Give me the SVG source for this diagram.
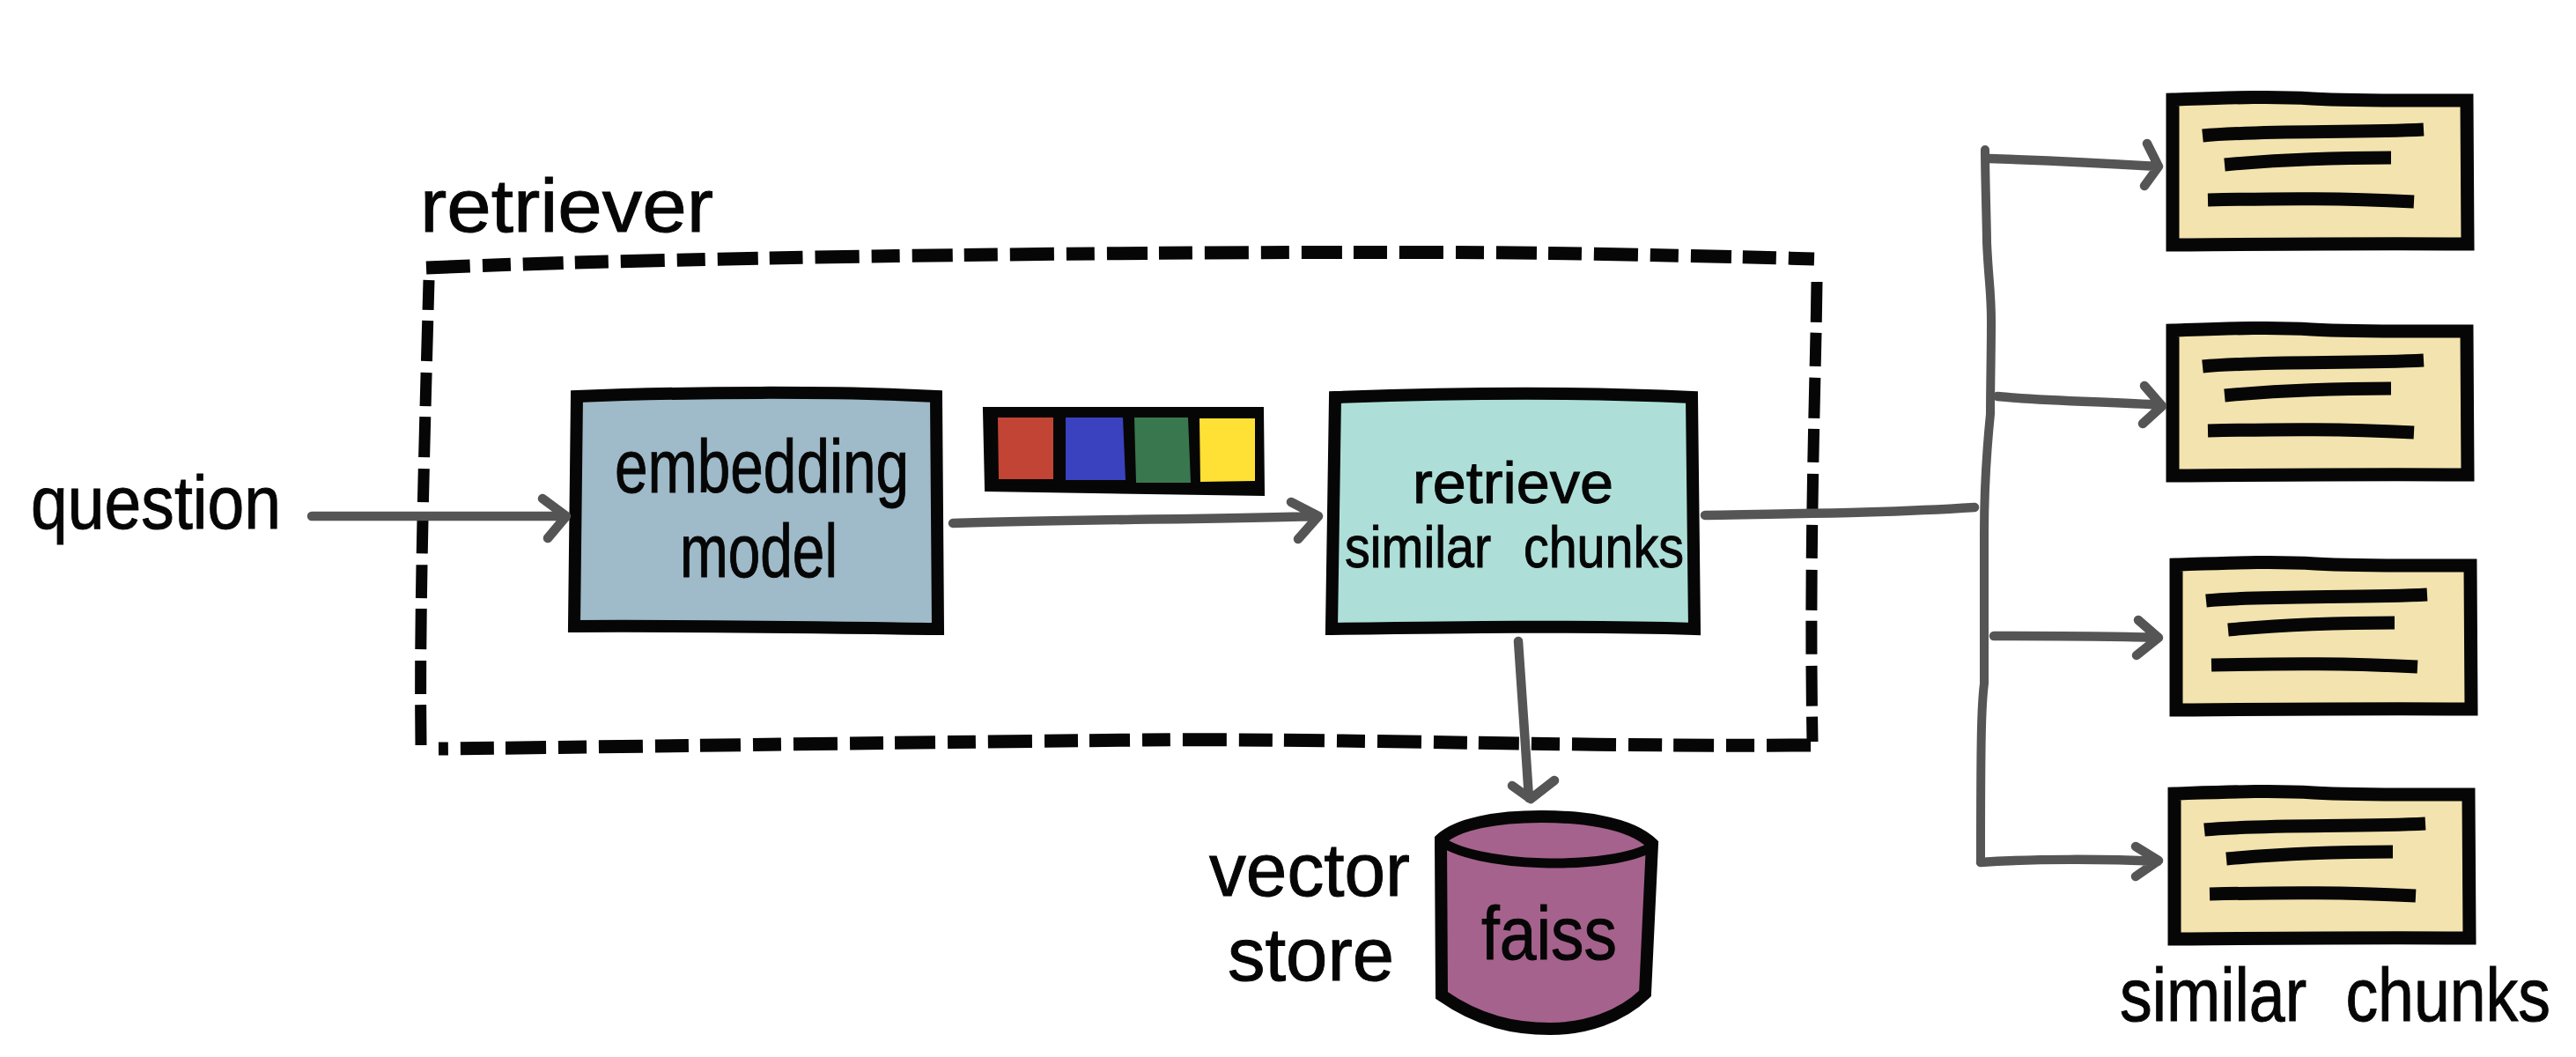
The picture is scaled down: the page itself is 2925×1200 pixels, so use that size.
<svg xmlns="http://www.w3.org/2000/svg" xmlns:xlink="http://www.w3.org/1999/xlink" width="2925" height="1200" viewBox="0 0 2925 1200">
<style>
text{font-family:"Liberation Sans Narrow","Liberation Sans",sans-serif;fill:#060606;stroke:#060606;stroke-width:1;text-anchor:start}
.hand{font-size:86px}
.small{font-size:66px}
.conn{fill:none;stroke:#555;stroke-width:10.5;stroke-linecap:round;stroke-linejoin:round}
.trunk{stroke-width:10}
.dash{fill:none;stroke:#060606;stroke-width:15;stroke-dasharray:50 14 32 14 46 13 38 14}
.dashv{stroke-width:13;stroke-dasharray:46 12 38 13}
.bar{fill:none;stroke:#060606;stroke-width:15;stroke-linecap:butt}
</style>
<defs>
<g id="doc">
<path d="M2467 113 C2530 111 2580 109 2625 112 C2680 115 2740 114 2801 114 L2802 277 C2700 276 2600 277 2467 278 Z" fill="#f3e3ae" stroke="#060606" stroke-width="15"/>
<path class="bar" d="M2501 154 C2560 148 2680 151 2752 147"/>
<path class="bar" d="M2526 187 C2590 181 2650 179 2715 179"/>
<path class="bar" d="M2507 227 C2600 225 2660 225 2741 229"/>
</g>
</defs>
<rect width="2925" height="1200" fill="#fff"/>

<g id="retriever">
<path class="dash" d="M484 304 C800 290 1500 283 1800 288 C1900 290 2000 292 2060 294"/>
<path class="dash dashv" d="M2063 320 C2062 420 2054 620 2058 842"/>
<path class="dash" d="M2056 846 C1800 848 1500 838 1300 840 C1000 843 700 848 498 850"/>
<path class="dash dashv" d="M478 846 C476 700 482 500 487 318"/>
<text class="hand" x="477" y="263" textLength="333" lengthAdjust="spacingAndGlyphs">retriever</text>
</g>

<g id="embedding-model">
<path d="M655 450 C780 445 950 444 1063 450 L1065 714 C900 712 780 710 652 711 Z" fill="#9fbac8" stroke="#060606" stroke-width="14"/>
<text class="hand" x="698" y="559" textLength="334" lengthAdjust="spacingAndGlyphs">embedding</text>
<text class="hand" x="772" y="655" textLength="179" lengthAdjust="spacingAndGlyphs">model</text>
</g>

<g id="vector">
<path d="M1120 466 L1431 466 L1432 559 C1320 558 1220 556 1122 554 Z" fill="#060606" stroke="#060606" stroke-width="8"/>
<path d="M1133 474 L1196 474 L1196 544 L1134 544 Z" fill="#c14435"/>
<path d="M1210 474 L1275 474 L1278 545 L1210 545 Z" fill="#3a42bf"/>
<path d="M1288 474 L1349 474 L1352 548 L1290 548 Z" fill="#39784f"/>
<path d="M1362 475 L1425 475 L1425 546 L1363 547 Z" fill="#ffe135"/>
</g>

<g id="retrieve-chunks">
<path d="M1516 451 C1650 446 1800 445 1921 451 L1924 714 C1800 710 1650 712 1512 714 Z" fill="#addfd8" stroke="#060606" stroke-width="14"/>
<text class="small" x="1604" y="571" textLength="228" lengthAdjust="spacingAndGlyphs">retrieve</text>
<text class="small" x="1527" y="644" style="word-spacing:24px" textLength="385" lengthAdjust="spacingAndGlyphs">similar chunks</text>
</g>

<g id="question">
<text class="hand" x="35" y="600" textLength="284" lengthAdjust="spacingAndGlyphs">question</text>
</g>

<g id="vector-store">
<path d="M1636 953 L1637 1130 C1680 1160 1720 1168 1760 1168 C1800 1168 1840 1155 1868 1128 L1876 958 C1850 932 1790 927 1750 927 C1700 927 1655 935 1636 953 Z" fill="#a5628c" stroke="#060606" stroke-width="14"/>
<path d="M1634 953 C1670 985 1830 990 1878 960" fill="none" stroke="#060606" stroke-width="11"/>
<text class="hand" x="1682" y="1089" textLength="154" lengthAdjust="spacingAndGlyphs">faiss</text>
<text class="hand" x="1373" y="1017" textLength="228" lengthAdjust="spacingAndGlyphs">vector</text>
<text class="hand" x="1394" y="1113" textLength="189" lengthAdjust="spacingAndGlyphs">store</text>
</g>

<g id="chunk-1"><use href="#doc" xlink:href="#doc"/></g>
<g id="chunk-2"><use href="#doc" xlink:href="#doc" y="262"/></g>
<g id="chunk-3"><use href="#doc" xlink:href="#doc" x="4" y="528"/></g>
<g id="chunk-4"><use href="#doc" xlink:href="#doc" x="2" y="788"/></g>

<text class="hand" id="similar-chunks" x="2407" y="1159" style="word-spacing:28px" textLength="489" lengthAdjust="spacingAndGlyphs">similar chunks</text>

<g id="connectors">
<path class="conn" d="M354 586 L640 586 M616 566 L643 586 L622 611"/>
<path class="conn" d="M1082 594 C1200 590 1350 590 1496 586 M1466 570 L1497 586 L1474 612"/>
<path class="conn" d="M1936 585 C2050 583 2150 582 2242 576"/>
<path class="conn" d="M1724 728 C1728 780 1732 850 1736 906 M1717 892 L1738 907 L1765 886"/>
<path class="conn trunk" d="M2254 170 C2254 200 2256 260 2256 275 C2258 320 2261 330 2261 365 C2261 400 2260 440 2260 470 C2256 510 2253 560 2253 605 L2253 776 C2250 800 2249 830 2249 979"/>
<path class="conn" d="M2259 180 C2320 182 2400 186 2450 189 M2438 163 L2451 189 L2435 211"/>
<path class="conn" d="M2268 450 C2330 456 2400 456 2454 460 M2435 438 L2455 461 L2433 481"/>
<path class="conn" d="M2264 722 C2330 722 2400 722 2450 724 M2428 704 L2451 724 L2426 744"/>
<path class="conn" d="M2249 979 C2310 975 2390 975 2450 978 M2425 961 L2451 977 L2425 995"/>
</g>
</svg>
